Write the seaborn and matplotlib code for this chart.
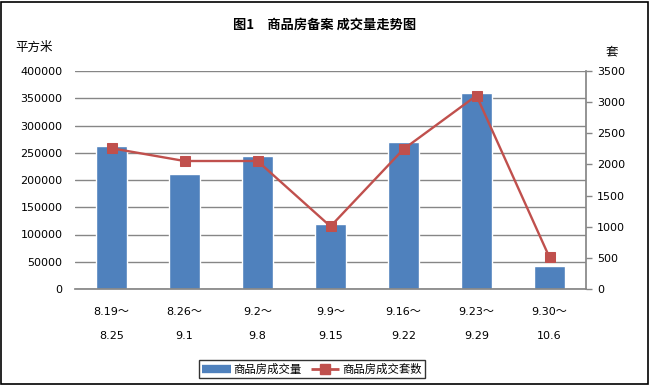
import numpy as np
import pandas as pd
import matplotlib
matplotlib.use('Agg')
import matplotlib.pyplot as plt
from matplotlib.patches import Rectangle
from matplotlib.lines import Line2D
import seaborn as sns

# 数据
periods = ['8.19～\n8.25', '8.26～\n9.1', '9.2～\n9.8', '9.9～\n9.15',
           '9.16～\n9.22', '9.23～\n9.29', '9.30～\n10.6']
area = [262000, 211000, 244000, 119500, 270000, 359500, 42700]
units = [2260, 2055, 2055, 1005, 2245, 3105, 507]

bar_color = '#4F81BD'
line_color = '#C0504D'
grid_color = '#868686'

sns.set_theme(style='white')
plt.rcParams['font.family'] = ['DejaVu Sans', 'Noto Sans CJK SC']
plt.rcParams['text.color'] = 'black'
cjk = ['Noto Sans CJK SC', 'DejaVu Sans']

fig = plt.figure(figsize=(6.5, 3.85), dpi=100)
ax = fig.add_axes([75 / 650, 96 / 385, 511 / 650, 218 / 385])

df = pd.DataFrame({'period': periods, 'area': area})
sns.barplot(data=df, x='period', y='area', color=bar_color, width=0.42,
            saturation=1, ax=ax, zorder=2)
ax.set_xlim(-0.5, 6.5)
ax.set_ylim(0, 400000)
ax.set_yticks(np.arange(0, 400001, 50000))
ax.yaxis.grid(True, color=grid_color, lw=1, zorder=0)
ax.set_axisbelow(True)
ax.set_xlabel('')
ax.set_ylabel('')
for s in ['top', 'left', 'right']:
    ax.spines[s].set_visible(False)
ax.spines['bottom'].set_color(grid_color)
ax.tick_params(axis='y', length=0, pad=9, labelsize=8, colors='black')
ax.tick_params(axis='x', length=0, pad=13, colors='black')
for lab in ax.get_xticklabels():
    lab.set_fontsize(8)
    lab.set_linespacing(2.75)
    lab.set_family(cjk[::-1])

ax2 = ax.twinx()
sns.lineplot(x=np.arange(len(units)), y=units, ax=ax2, color=line_color,
             lw=1.7, marker='s', markersize=7.5, markeredgecolor=line_color,
             zorder=3)
ax2.set_ylim(0, 3500)
ax2.set_yticks(np.arange(0, 3501, 500))
for s in ['top', 'left', 'bottom']:
    ax2.spines[s].set_visible(False)
ax2.spines['right'].set_color(grid_color)
ax2.tick_params(axis='y', length=4, width=1, color=grid_color, pad=4,
                labelsize=8, labelcolor='black', right=True)
ax2.grid(False)

fig.text(325 / 650, 1 - 25 / 385, '图1　商品房备案 成交量走势图', ha='center',
         va='center', fontsize=9.5, fontweight='bold', family=cjk)
fig.text(15 / 650, 1 - 47 / 385, '平方米', ha='left', va='center', fontsize=9,
         family=cjk)
fig.text(612 / 650, 1 - 52 / 385, '套', ha='center', va='center', fontsize=9,
         family=cjk)

handles = [Line2D([], [], color=bar_color, lw=6, solid_capstyle='butt'),
           Line2D([], [], color=line_color, lw=2, marker='s', markersize=7,
                  solid_capstyle='butt')]
leg = fig.legend(handles, ['商品房成交量', '商品房成交套数'], loc='lower center',
                 bbox_to_anchor=(312 / 650, 7 / 385), ncol=2, frameon=True,
                 fancybox=False, prop={'family': cjk, 'size': 8.2},
                 handlelength=2.5, handletextpad=0.25, columnspacing=0.8,
                 borderpad=0.3, borderaxespad=0)
leg.get_frame().set_edgecolor('black')
leg.get_frame().set_linewidth(1)

fig.patches.append(Rectangle((1 / 650, 1 / 385), 647 / 650, 382 / 385,
                             transform=fig.transFigure, fill=False,
                             edgecolor='black', lw=1.2))

fig.savefig('out.png', dpi=100)
